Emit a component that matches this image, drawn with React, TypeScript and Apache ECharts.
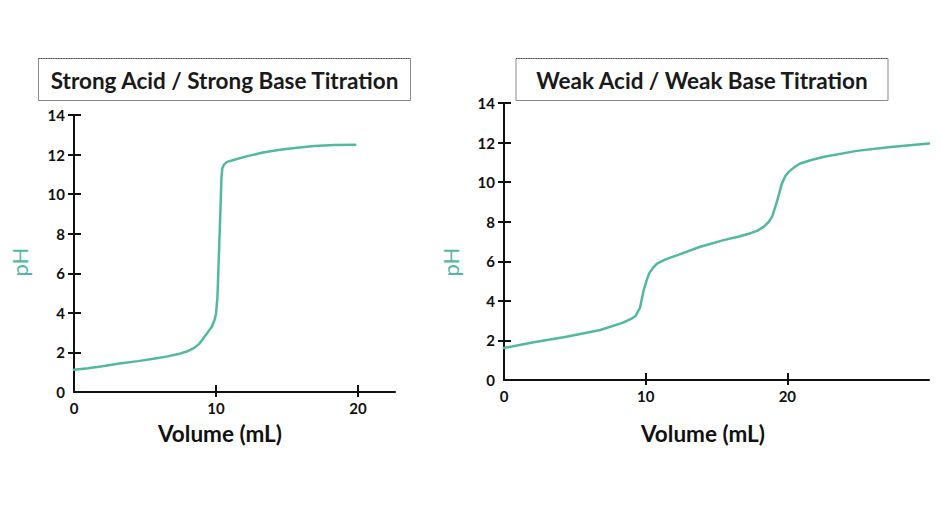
import React, { useEffect, useRef } from "react";
import * as echarts from "echarts";

// Strong acid / strong base titration
const strongVolume = [0, 1, 2, 3.2, 4.5, 5.6, 6.6, 7.5, 8.0, 8.4, 8.8, 9.1, 9.4, 9.7, 9.9, 10.0, 10.1, 10.2, 10.3, 10.38, 10.44, 10.55, 10.77, 11.35, 12.2, 13.3, 14.5, 15.7, 16.9, 18.3, 19.8];
const strongPH = [1.12, 1.2, 1.3, 1.44, 1.56, 1.68, 1.8, 1.95, 2.06, 2.2, 2.42, 2.7, 3.0, 3.3, 3.65, 3.97, 4.8, 6.9, 9.0, 10.8, 11.3, 11.48, 11.63, 11.75, 11.92, 12.1, 12.24, 12.35, 12.43, 12.48, 12.5];

// Weak acid / weak base titration
const weakVolume = [0, 2, 4.4, 6.8, 8.4, 9.0, 9.3, 9.6, 9.85, 10.05, 10.25, 10.5, 10.8, 11.4, 12.2, 13.8, 15.5, 16.6, 17.4, 17.9, 18.35, 18.7, 18.95, 19.3, 19.6, 19.85, 20.1, 20.5, 20.9, 21.7, 22.6, 24.9, 27.3, 30];
const weakPH = [1.62, 1.9, 2.19, 2.53, 2.9, 3.1, 3.25, 3.65, 4.5, 5.0, 5.4, 5.65, 5.88, 6.1, 6.3, 6.72, 7.07, 7.25, 7.42, 7.55, 7.75, 8.0, 8.3, 9.1, 9.9, 10.3, 10.52, 10.76, 10.94, 11.12, 11.28, 11.58, 11.78, 11.95];

const yTickValues = [2, 4, 6, 8, 10, 12, 14];
const yLabelValues = [0, 2, 4, 6, 8, 10, 12, 14];
const xTickValues = [10, 20];
const xLabelValues = [0, 10, 20];

const titles = ["Strong Acid / Strong Base Titration", "Weak Acid / Weak Base Titration"];
const xName = "Volume (mL)";
const yName = "pH";

const TEAL = "#52b9a0";
const INK = "#111";
const FONT = "Lato";

export default function App() {
  const ref = useRef<HTMLDivElement>(null);
  useEffect(() => {
    if (!ref.current) return;
    const chart = echarts.init(ref.current, null, { renderer: "svg" });

    const labelStyle = { color: INK, fontFamily: FONT, fontWeight: "bold", fontSize: 15 };

    const mainX = (gridIndex: number, max: number) => ({
      type: "value",
      gridIndex,
      position: "bottom",
      min: 0,
      max,
      axisLine: { show: true, onZero: false, lineStyle: { color: INK, width: 2 } },
      axisTick: { show: true, inside: false, length: 5, customValues: xTickValues, lineStyle: { color: INK, width: 2 } },
      axisLabel: { show: true, customValues: xLabelValues, margin: 8, ...labelStyle },
      splitLine: { show: false },
    });
    const innerX = (gridIndex: number, max: number) => ({
      type: "value",
      gridIndex,
      position: "bottom",
      min: 0,
      max,
      axisLine: { show: false, onZero: false },
      axisTick: { show: true, inside: true, length: 7, customValues: xTickValues, lineStyle: { color: INK, width: 2 } },
      axisLabel: { show: false },
      splitLine: { show: false },
    });
    const mainY = (gridIndex: number) => ({
      type: "value",
      gridIndex,
      position: "left",
      min: 0,
      max: 14,
      axisLine: { show: true, onZero: false, lineStyle: { color: INK, width: 2 } },
      axisTick: { show: true, inside: false, length: 6, customValues: yTickValues, lineStyle: { color: INK, width: 2 } },
      axisLabel: { show: true, customValues: yLabelValues, margin: 9, ...labelStyle },
      splitLine: { show: false },
    });
    const innerY = (gridIndex: number) => ({
      type: "value",
      gridIndex,
      position: "left",
      min: 0,
      max: 14,
      axisLine: { show: false, onZero: false },
      axisTick: { show: true, inside: true, length: 7, customValues: yTickValues, lineStyle: { color: INK, width: 2 } },
      axisLabel: { show: false },
      splitLine: { show: false },
    });

    const titleBox = (x: number, w: number, text: string) => [
      {
        type: "rect",
        shape: { x, y: 58.5, width: w, height: 42 },
        style: { fill: "#fff", stroke: "#8a8a8a", lineWidth: 1 },
        z: 10,
      },
      {
        type: "line",
        shape: { x1: x, y1: 58.5, x2: x + w, y2: 58.5 },
        style: { stroke: "#444", lineWidth: 1, lineDash: [1, 1.5] },
        z: 11,
      },
      {
        type: "text",
        x: x + w / 2,
        y: 80,
        style: {
          text,
          fill: "#1a1a1a",
          font: `bold 22.5px ${FONT}`,
          align: "center",
          verticalAlign: "middle",
        },
        z: 12,
      },
    ];

    const textAt = (x: number, y: number, text: string, color: string, weight: string, size: number, rotation = 0) => ({
      type: "text",
      x,
      y,
      rotation,
      style: {
        text,
        fill: color,
        font: `${weight} ${size}px ${FONT}`,
        align: "center",
        verticalAlign: "middle",
      },
    });

    const lineSeries = (xi: number, xs: number[], ys: number[]) => ({
      type: "line",
      xAxisIndex: xi,
      yAxisIndex: xi,
      data: xs.map((v, i) => [v, ys[i]]),
      showSymbol: false,
      smooth: false,
      lineStyle: { color: TEAL, width: 2.5, join: "round", cap: "round" },
      clip: false,
    });

    chart.setOption({
      animation: false,
      backgroundColor: "#fff",
      grid: [
        { left: 74, top: 115, width: 321, height: 277 },
        { left: 504, top: 103, width: 425, height: 277 },
      ],
      xAxis: [mainX(0, 22.6), innerX(0, 22.6), mainX(1, 30), innerX(1, 30)],
      yAxis: [mainY(0), innerY(0), mainY(1), innerY(1)],
      series: [lineSeries(0, strongVolume, strongPH), lineSeries(2, weakVolume, weakPH)],
      graphic: [
        ...titleBox(38.5, 372, titles[0]),
        ...titleBox(516, 372, titles[1]),
        textAt(220, 433, xName, INK, "bold", 22.5),
        textAt(703, 433, xName, INK, "bold", 22.5),
        textAt(19, 262, yName, TEAL, "normal", 22, Math.PI / 2),
        textAt(450, 262, yName, TEAL, "normal", 22, Math.PI / 2),
      ],
    });
    return () => chart.dispose();
  }, []);
  return (
    <div
      ref={ref}
      style={{ position: "fixed", left: 0, top: 0, width: 940, height: 526, background: "#fff" }}
    />
  );
}
